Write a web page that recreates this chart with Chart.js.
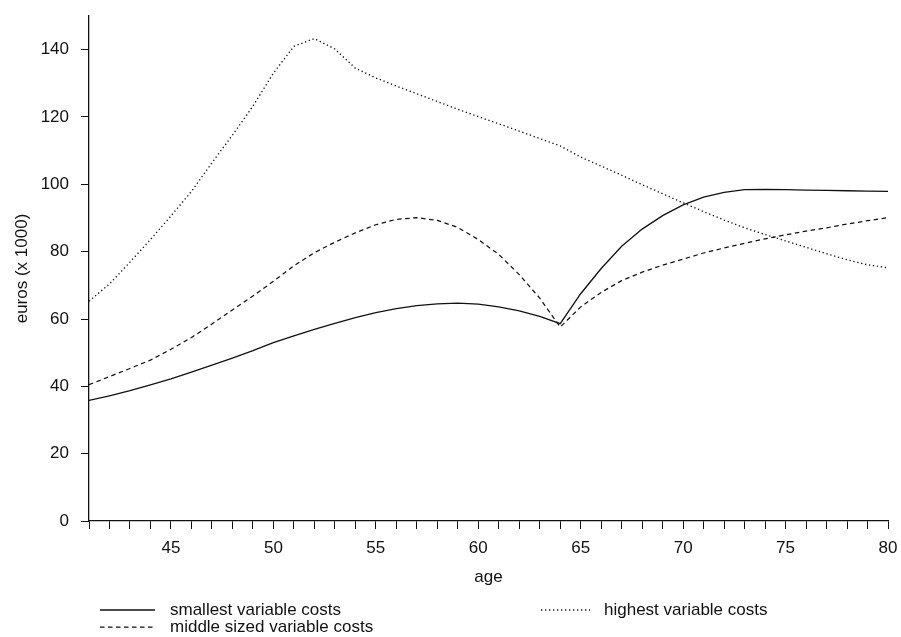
<!DOCTYPE html>
<html>
<head>
<meta charset="utf-8">
<script src="https://cdn.jsdelivr.net/npm/chart.js@4/dist/chart.umd.min.js"></script>
<style>
  html, body { margin: 0; padding: 0; background: #fff; }
  #wrap { width: 901px; height: 637px; }
</style>
</head>
<body>
<div id="wrap"><canvas id="c" width="901" height="637"></canvas></div>
<script>
// Age in years (x axis)
const ages = [41, 42, 43, 44, 45, 46, 47, 48, 49, 50,
              51, 52, 53, 54, 55, 56, 57, 58, 59, 60,
              61, 62, 63, 64, 65, 66, 67, 68, 69, 70,
              71, 72, 73, 74, 75, 76, 77, 78, 79, 80];

// Costs in euros (x 1000) per age
const smallestCosts = [35.8, 37.2, 38.7, 40.4, 42.2, 44.2, 46.3, 48.4, 50.6, 53.0,
                       55.0, 56.9, 58.7, 60.4, 61.9, 63.1, 64.0, 64.5, 64.7, 64.4,
                       63.6, 62.4, 60.8, 58.6, 67.5, 75.0, 81.6, 86.7, 90.7, 93.9,
                       96.2, 97.6, 98.4, 98.5, 98.4, 98.3, 98.2, 98.1, 98.0, 97.9];

const middleCosts = [40.5, 42.9, 45.3, 47.8, 51.0, 54.5, 58.5, 62.7, 66.8, 71.2,
                     75.8, 79.7, 82.8, 85.6, 88.0, 89.6, 90.1, 89.3, 87.2, 83.6,
                     79.2, 73.2, 66.2, 57.6, 63.6, 67.9, 71.4, 73.9, 76.0, 77.8,
                     79.6, 81.1, 82.5, 83.8, 85.0, 86.1, 87.1, 88.2, 89.2, 90.1];

const highestCosts = [65.3, 70.4, 76.9, 83.6, 90.6, 97.9, 106.4, 114.6, 123.2, 133.0,
                      141.0, 143.3, 140.2, 134.5, 131.6, 129.2, 126.9, 124.6, 122.3, 120.1,
                      118.0, 115.8, 113.6, 111.4, 108.1, 105.4, 102.7, 99.9, 97.2, 94.5,
                      91.9, 89.4, 87.1, 85.1, 83.2, 81.3, 79.4, 77.6, 76.1, 75.2];

// Axis tick values
const xLabelTicks = [45, 50, 55, 60, 65, 70, 75, 80];
const yTicks = [0, 20, 40, 60, 80, 100, 120, 140];

const seriesNames = ['smallest variable costs', 'middle sized variable costs', 'highest variable costs'];

const FONT = 'Liberation Sans, Arial, Helvetica, sans-serif';
const INK = '#111';

function toPoints(values) {
  return ages.map((a, i) => ({ x: a, y: values[i] }));
}

// Two-column legend under the plot: first column holds the first two series,
// second column the third one.
const bottomLegend = {
  id: 'bottomLegend',
  afterDraw(chart) {
    const ctx = chart.ctx;
    const slots = [
      { ds: 0, x0: 100, x1: 155, tx: 170, y: 610 },
      { ds: 1, x0: 100, x1: 155, tx: 170, y: 627 },
      { ds: 2, x0: 541, x1: 590, tx: 604, y: 610 }
    ];
    ctx.save();
    ctx.font = '17px ' + FONT;
    ctx.textBaseline = 'middle';
    ctx.textAlign = 'left';
    slots.forEach(s => {
      const ds = chart.data.datasets[s.ds];
      ctx.strokeStyle = ds.borderColor;
      ctx.lineWidth = ds.borderWidth;
      ctx.setLineDash(ds.borderDash || []);
      ctx.beginPath();
      ctx.moveTo(s.x0, s.y);
      ctx.lineTo(s.x1, s.y);
      ctx.stroke();
      ctx.setLineDash([]);
      ctx.fillStyle = INK;
      ctx.fillText(ds.label, s.tx, s.y);
    });
    ctx.restore();
  }
};

new Chart(document.getElementById('c'), {
  type: 'line',
  data: {
    datasets: [
      { label: seriesNames[0], data: toPoints(smallestCosts), borderColor: INK, borderWidth: 1.3, borderDash: [] },
      { label: seriesNames[1], data: toPoints(middleCosts), borderColor: INK, borderWidth: 1.25, borderDash: [4.5, 3.5] },
      { label: seriesNames[2], data: toPoints(highestCosts), borderColor: INK, borderWidth: 1.35, borderDash: [1.3, 2.7] }
    ]
  },
  options: {
    responsive: false,
    animation: false,
    events: [],
    layout: { padding: { top: 16, right: 13, left: 0, bottom: 0 } },
    elements: { point: { radius: 0 }, line: { tension: 0, fill: false } },
    plugins: { legend: { display: false }, tooltip: { enabled: false }, title: { display: false } },
    scales: {
      x: {
        type: 'linear',
        min: 41,
        max: 80,
        afterFit: s => { s.height = 116; s.paddingLeft = 0; s.paddingRight = 0; },
        afterBuildTicks: s => { s.ticks = ages.map(a => ({ value: a })); },
        border: { display: true, color: INK, width: 1.3 },
        grid: { display: true, drawOnChartArea: false, drawTicks: true, tickLength: 8, color: INK, lineWidth: 1 },
        ticks: {
          autoSkip: false,
          maxRotation: 0,
          padding: 9,
          color: INK,
          font: { family: FONT, size: 17 },
          callback: v => (xLabelTicks.includes(v) ? String(v) : '')
        },
        title: { display: true, text: 'age', color: INK, font: { family: FONT, size: 17 }, padding: { top: 0, bottom: 49 } }
      },
      y: {
        type: 'linear',
        min: 0,
        max: 150,
        afterFit: s => { s.width = 89; s.paddingTop = 0; s.paddingBottom = 0; },
        afterBuildTicks: s => { s.ticks = yTicks.map(v => ({ value: v })); },
        border: { display: true, color: INK, width: 1.3 },
        grid: { display: true, drawOnChartArea: false, drawTicks: true, tickLength: 8, color: INK, lineWidth: 1 },
        ticks: {
          autoSkip: false,
          padding: 12,
          color: INK,
          font: { family: FONT, size: 17 },
          callback: v => String(v)
        },
        title: { display: true, text: 'euros (x 1000)', color: INK, font: { family: FONT, size: 17 }, padding: { top: 12, bottom: 0 } }
      }
    }
  },
  plugins: [bottomLegend]
});
</script>
</body>
</html>
